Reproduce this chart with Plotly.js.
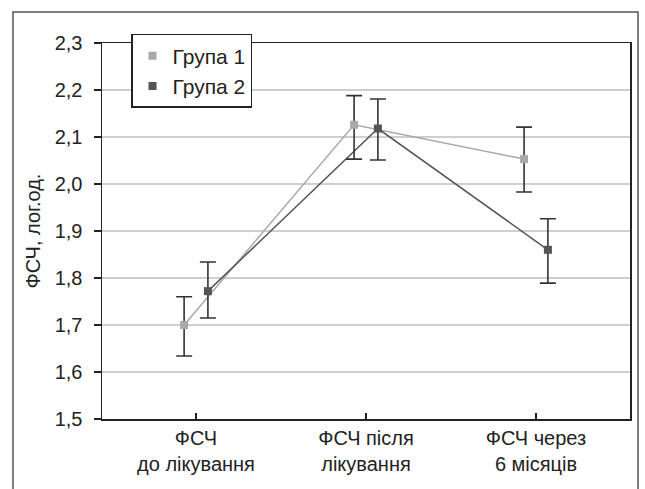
<!DOCTYPE html>
<html>
<head>
<meta charset="utf-8">
<script src="https://cdn.plot.ly/plotly-3.0.1.min.js"></script>
<style>
  html, body { margin: 0; padding: 0; background: #fff; }
  #chart { width: 645px; height: 489px; }
</style>
</head>
<body>
<div id="chart"></div>
<script>
// ---- data ----
const categories = ['ФСЧ<br>до лікування', 'ФСЧ після<br>лікування', 'ФСЧ через<br>6 місяців'];
const seriesNames = ['Група 1', 'Група 2'];
const group1 = [1.700, 2.126, 2.053];
const group1Plus = [0.060, 0.062, 0.068];
const group1Minus = [0.066, 0.073, 0.070];
const group2 = [1.772, 2.118, 1.860];
const group2Plus = [0.062, 0.063, 0.066];
const group2Minus = [0.057, 0.067, 0.071];

// ---- styling ----
const shift = 0.07;
const idx = categories.map((_, i) => i);
const x1 = idx.map(i => i - shift);
const x2 = idx.map(i => i + shift);
const c1 = '#a9a9a9', c2 = '#555555', errColor = '#333333';

function lineTrace(x, y, color) {
  return { x: x, y: y, type: 'scatter', mode: 'lines', showlegend: false,
           hoverinfo: 'skip', line: { color: color, width: 1.5 } };
}
function markerTrace(x, y, plus, minus, color, name) {
  return { x: x, y: y, type: 'scatter', mode: 'markers', name: name,
           marker: { symbol: 'square', size: 8, color: color },
           error_y: { type: 'data', symmetric: false, array: plus, arrayminus: minus,
                      color: errColor, thickness: 1.6, width: 8 } };
}

const data = [
  lineTrace(x1, group1, c1),
  lineTrace(x2, group2, c2),
  markerTrace(x1, group1, group1Plus, group1Minus, c1, seriesNames[0]),
  markerTrace(x2, group2, group2Plus, group2Minus, c2, seriesNames[1])
];

const font = { family: 'Liberation Sans, Arial, sans-serif', size: 20, color: '#222' };
const legendFont = { family: 'Liberation Sans, Arial, sans-serif', size: 21, color: '#222' };

const layout = {
  width: 645, height: 489,
  margin: { l: 102, r: 15, t: 43, b: 70 },
  paper_bgcolor: '#fff', plot_bgcolor: '#fff',
  font: font,
  separators: ', ',
  showlegend: true,
  legend: {
    x: 0.055, y: 1.024, xanchor: 'left', yanchor: 'top',
    bgcolor: '#fff', bordercolor: '#222', borderwidth: 1.5,
    font: legendFont, tracegroupgap: 0, itemwidth: 30, entrywidth: 90
  },
  xaxis: {
    range: [-0.553, 2.553],
    tickmode: 'array', tickvals: idx, ticktext: categories,
    ticks: 'inside', ticklen: 6, tickcolor: '#222', tickwidth: 1.2,
    showgrid: false, zeroline: false,
    showline: true, linecolor: '#222', linewidth: 1.5, mirror: true,
    tickfont: font, fixedrange: true
  },
  yaxis: {
    range: [1.5, 2.3], dtick: 0.1, tick0: 1.5, tickformat: '.1f',
    ticks: 'outside', ticklen: 7, tickcolor: '#222', tickwidth: 1.2,
    ticklabelstandoff: 7,
    showgrid: true, gridcolor: '#cfcfcf', gridwidth: 1.5,
    zeroline: false,
    showline: true, linecolor: '#222', linewidth: 1.5, mirror: true,
    tickfont: font,
    title: { text: 'ФСЧ, лог.од.', font: font, standoff: 8 },
    fixedrange: true
  },
  shapes: [{
    type: 'rect', xref: 'paper', yref: 'paper',
    x0: -0.1686, x1: 1.0152, y0: -0.25, y1: 1.0824,
    line: { color: '#555', width: 1.5 }, fillcolor: 'rgba(0,0,0,0)', layer: 'below'
  }]
};

Plotly.newPlot('chart', data, layout, { displayModeBar: false, staticPlot: true });
</script>
</body>
</html>
